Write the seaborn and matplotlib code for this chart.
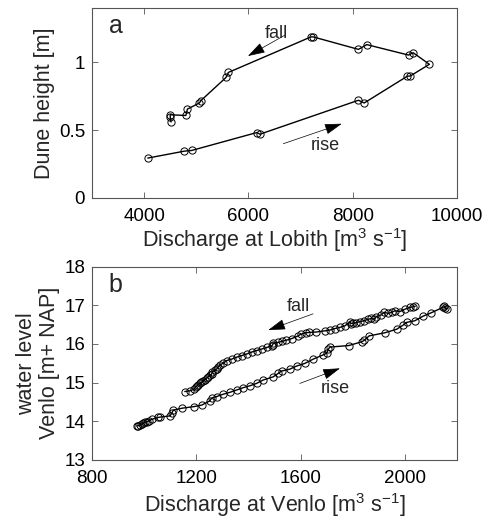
import matplotlib
matplotlib.use("Agg")
import matplotlib.pyplot as plt
import seaborn as sns
import pandas as pd

# ---- Panel a: dune height vs discharge at Lobith ----
lobith_q = [4070, 4770, 4910, 6160, 6220, 8110, 8220, 9050, 9100, 9470,
            9160, 9070, 8270, 8110, 7240, 7200, 5615, 5570, 5090, 5060,
            4830, 4800, 4500, 4500, 4515]
dune_h = [0.294, 0.345, 0.350, 0.482, 0.470, 0.720, 0.700, 0.898, 0.898, 0.985,
          1.070, 1.053, 1.130, 1.095, 1.187, 1.187, 0.925, 0.888, 0.718, 0.700,
          0.655, 0.608, 0.613, 0.600, 0.560]

# ---- Panel b: water level at Venlo vs discharge at Venlo ----
rise_q = [972, 978, 984, 990, 997, 1003, 1010, 1020, 1029, 1054, 1062, 1099, 1106,
          1112, 1146, 1191, 1221, 1252, 1259, 1278, 1303, 1329, 1355, 1380, 1406,
          1431, 1457, 1495, 1514, 1527, 1559, 1585, 1617, 1649, 1687, 1700, 1706,
          1712, 1785, 1836, 1845, 1863, 1923, 1968, 1994, 2007, 2038, 2070, 2102,
          2147, 2152, 2160, 2155]
rise_lvl = [13.88, 13.89, 13.91, 13.93, 13.95, 13.97, 13.99, 14.02, 14.05, 14.10,
            14.11, 14.14, 14.21, 14.29, 14.34, 14.38, 14.42, 14.53, 14.60, 14.64,
            14.70, 14.75, 14.81, 14.87, 14.92, 14.98, 15.07, 15.15, 15.24, 15.30,
            15.35, 15.43, 15.50, 15.61, 15.72, 15.76, 15.86, 15.92, 15.96, 16.06,
            16.10, 16.21, 16.29, 16.38, 16.49, 16.56, 16.60, 16.72, 16.81, 16.95,
            16.97, 16.90, 16.93]
fall_q = [2040, 2032, 2019, 2000, 1981, 1962, 1950, 1936, 1921, 1908, 1891, 1883,
          1872, 1859, 1843, 1827, 1814, 1800, 1793, 1790, 1770, 1751, 1732, 1712,
          1693, 1661, 1633, 1620, 1600, 1591, 1566, 1546, 1530, 1514, 1495, 1493,
          1489, 1470, 1451, 1431, 1412, 1393, 1374, 1355, 1336, 1316, 1303, 1290,
          1284, 1278, 1271, 1262, 1259, 1252, 1246, 1240, 1233, 1227, 1220, 1214,
          1207, 1201, 1197, 1192, 1176, 1156]
fall_lvl = [16.98, 16.96, 16.95, 16.90, 16.84, 16.86, 16.82, 16.79, 16.82, 16.75,
            16.71, 16.64, 16.66, 16.64, 16.60, 16.58, 16.55, 16.54, 16.53, 16.57,
            16.47, 16.43, 16.40, 16.36, 16.34, 16.31, 16.30, 16.29, 16.25, 16.21,
            16.14, 16.10, 16.07, 16.04, 16.02, 15.98, 15.95, 15.91, 15.87, 15.83,
            15.79, 15.74, 15.70, 15.66, 15.61, 15.57, 15.50, 15.46, 15.40, 15.35,
            15.33, 15.28, 15.22, 15.20, 15.15, 15.12, 15.08, 15.05, 15.01, 14.98,
            14.94, 14.91, 14.88, 14.83, 14.79, 14.77]

sns.set_theme(style="white")
plt.rcParams["font.family"] = ["Liberation Sans", "DejaVu Sans"]
plt.rcParams["mathtext.default"] = "regular"

fig = plt.figure(figsize=(4.93, 5.18), dpi=100)
axa = fig.add_axes([0.1866, 0.6178, 0.7404, 0.3668])
axb = fig.add_axes([0.1866, 0.1120, 0.7404, 0.3732])

line_kw = dict(sort=False, estimator=None, color="black", marker="o",
               markerfacecolor="none", markeredgecolor="black",
               markersize=5.2, markeredgewidth=0.7, linewidth=1.0)

dfa = pd.DataFrame({"q": lobith_q, "h": dune_h})
sns.lineplot(data=dfa, x="q", y="h", ax=axa, **line_kw)

dfr = pd.DataFrame({"q": rise_q, "w": rise_lvl})
dff = pd.DataFrame({"q": fall_q, "w": fall_lvl})
sns.lineplot(data=dfr, x="q", y="w", ax=axb, **line_kw)
sns.lineplot(data=dff, x="q", y="w", ax=axb, **line_kw)

axa.set_xlim(3000, 10000)
axa.set_ylim(0, 1.4)
axa.set_xticks([4000, 6000, 8000, 10000])
axa.set_yticks([0, 0.5, 1])
axa.set_yticklabels(["0", "0.5", "1"])

axb.set_xlim(800, 2200)
axb.set_ylim(13, 18)
axb.set_xticks([800, 1200, 1600, 2000])
axb.set_yticks([13, 14, 15, 16, 17, 18])

axa.set_xlabel("Discharge at Lobith [m$^3$ s$^{-1}$]", fontsize=15.5)
axa.set_ylabel("Dune height [m]", fontsize=15.5)
axb.set_xlabel("Discharge at Venlo [m$^3$ s$^{-1}$]", fontsize=15.5)
axb.set_ylabel("water level\nVenlo [m+ NAP]", fontsize=15.5, linespacing=1.1)

for ax in (axa, axb):
    for s in ax.spines.values():
        s.set_color("#555555")
        s.set_linewidth(0.8)
        s.set_visible(True)
    ax.tick_params(direction="in", length=4, width=0.6, colors="#555555",
                   labelcolor="black", labelsize=13.5, top=True, right=True,
                   bottom=True, left=True)
    ax.tick_params(axis="x", pad=7)
    ax.tick_params(axis="y", pad=5)
    ax.grid(False)

axa.yaxis.set_label_coords(-0.10, 0.5)
axb.yaxis.set_label_coords(-0.088, 0.5)
axa.xaxis.set_label_coords(0.5, -0.15)
axb.xaxis.set_label_coords(0.5, -0.16)

# panel letters
axa.text(0.065, 0.905, "a", transform=axa.transAxes, fontsize=18, ha="center", va="center")
axb.text(0.065, 0.905, "b", transform=axb.transAxes, fontsize=18, ha="center", va="center")

arrow_kw = dict(arrowstyle="-|>,head_length=0.9,head_width=0.28", color="black",
                lw=0.5, shrinkA=0, shrinkB=0)

# panel a arrows and labels
axa.annotate("", xy=(5990, 1.046), xytext=(6700, 1.20), arrowprops=arrow_kw)
axa.text(6530, 1.21, "fall", fontsize=13, ha="center", va="center")
axa.annotate("", xy=(7790, 0.547), xytext=(6670, 0.40), arrowprops=arrow_kw)
axa.text(7470, 0.39, "rise", fontsize=13, ha="center", va="center")

# panel b arrows and labels
axb.annotate("", xy=(1476, 16.36), xytext=(1648, 16.78), arrowprops=arrow_kw)
axb.text(1591, 16.98, "fall", fontsize=13, ha="center", va="center")
axb.annotate("", xy=(1751, 15.37), xytext=(1597, 14.98), arrowprops=arrow_kw)
axb.text(1732, 14.85, "rise", fontsize=13, ha="center", va="center")

fig.savefig("out.png", dpi=100)
